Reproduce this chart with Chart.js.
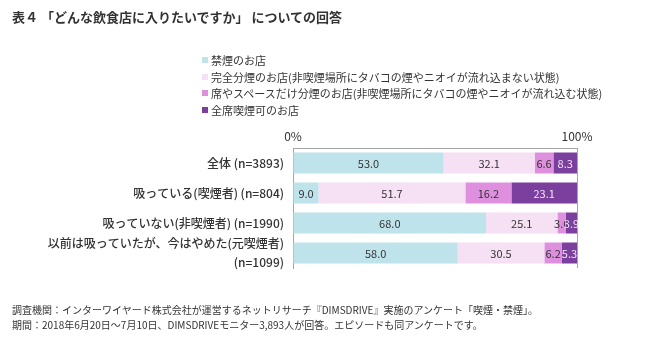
<!DOCTYPE html>
<html lang="ja">
<head>
<meta charset="UTF-8">
<title>表4 どんな飲食店に入りたいですか</title>
<script src="https://cdn.jsdelivr.net/npm/chart.js"></script>
<style>
  body { margin: 0; background: #fff; font-family: "Noto Sans CJK JP", sans-serif; color: #333; }
  .wrap { position: relative; width: 650px; height: 351px; }
  canvas { position: absolute; left: 0; top: 0; }
  .title { position: absolute; left: 12px; top: 7px; font-size: 13px; font-weight: bold; color: #333; }
  .legend { position: absolute; left: 202px; top: 52px; font-size: 11px; line-height: 16.7px; color: #333; }
  .legend span.box { display: inline-block; width: 6px; height: 6px; margin-right: 3px; vertical-align: 2px; }
  .note { position: absolute; left: 12px; top: 302px; font-size: 10px; line-height: 15px; color: #333; }
</style>
</head>
<body>
<div class="wrap">
  <canvas id="chart" width="650" height="351"></canvas>
  <div class="title">表４ 「どんな飲食店に入りたいですか」 についての回答</div>
  <div class="legend" id="legend"></div>
  <div class="note">調査機関：インターワイヤード株式会社が運営するネットリサーチ『DIMSDRIVE』実施のアンケート「喫煙・禁煙」。<br>期間：2018年6月20日～7月10日、DIMSDRIVEモニター3,893人が回答。エピソードも同アンケートです。</div>
</div>
<script>
// データ
const categories = [
  "全体 (n=3893)",
  "吸っている(喫煙者) (n=804)",
  "吸っていない(非喫煙者) (n=1990)",
  ["以前は吸っていたが、今はやめた(元喫煙者)", "(n=1099)"]
];
const seriesNames = [
  "禁煙のお店",
  "完全分煙のお店(非喫煙場所にタバコの煙やニオイが流れ込まない状態)",
  "席やスペースだけ分煙のお店(非喫煙場所にタバコの煙やニオイが流れ込む状態)",
  "全席喫煙可のお店"
];
const kinen = [53.0, 9.0, 68.0, 58.0];
const kanzenBunen = [32.1, 51.7, 25.1, 30.5];
const sekiBunen = [6.6, 16.2, 3.0, 6.2];
const kitsuenKa = [8.3, 23.1, 3.9, 5.3];
const tickValues = [0, 100];

const colors = ["#bfe3ea", "#f6e0f3", "#de90de", "#7b3f9e"];
const labelColors = ["#333", "#333", "#333", "#f3e6f7"];
const seriesData = [kinen, kanzenBunen, sekiBunen, kitsuenKa];

// 凡例
document.getElementById("legend").innerHTML = seriesNames.map((name, i) =>
  `<div><span class="box" style="background:${colors[i]}"></span>${name}</div>`).join("");

// 値ラベル
const valueLabels = {
  id: "valueLabels",
  afterDatasetsDraw(chart) {
    const ctx = chart.ctx;
    ctx.save();
    ctx.font = "11px 'Noto Sans CJK JP', sans-serif";
    ctx.textAlign = "center";
    ctx.textBaseline = "middle";
    chart.data.datasets.forEach((ds, i) => {
      chart.getDatasetMeta(i).data.forEach((bar, j) => {
        const cx = (bar.x + bar.base) / 2;
        ctx.fillStyle = labelColors[i];
        ctx.fillText(ds.data[j].toFixed(1), cx, bar.y + 1);
      });
    });
    ctx.restore();
  }
};

new Chart(document.getElementById("chart"), {
  type: "bar",
  data: {
    labels: categories,
    datasets: seriesNames.map((name, i) => ({
      label: name,
      data: seriesData[i],
      backgroundColor: colors[i],
      borderWidth: 0,
      barPercentage: 0.7,
      categoryPercentage: 1
    }))
  },
  options: {
    indexAxis: "y",
    responsive: false,
    animation: false,
    layout: { padding: { top: 122, right: 73, bottom: 83, left: 0 } },
    plugins: { legend: { display: false }, tooltip: { enabled: false } },
    scales: {
      x: {
        position: "top",
        stacked: true,
        min: 0,
        max: 100,
        afterBuildTicks: (scale) => { scale.ticks = tickValues.map(v => ({ value: v })); },
        afterFit: (scale) => { scale.height = 26; },
        ticks: {
          callback: (v) => v + "%",
          color: "#333",
          font: { size: 12, family: "'Noto Sans CJK JP', sans-serif" },
          padding: 4
        },
        grid: {
          drawTicks: false,
          color: (c) => c.tick && c.tick.value === 100 ? "#a6a6a6" : "rgba(0,0,0,0)"
        },
        border: { color: "#a6a6a6", width: 1 }
      },
      y: {
        stacked: true,
        afterFit: (scale) => { scale.width = 293; },
        ticks: {
          autoSkip: false,
          color: "#333",
          font: { size: 12, family: "'Noto Sans CJK JP', sans-serif", weight: 500, lineHeight: 1.55 },
          padding: 9
        },
        grid: { display: false, drawTicks: false },
        border: { color: "#a6a6a6", width: 1 }
      }
    }
  },
  plugins: [valueLabels]
});
</script>
</body>
</html>
